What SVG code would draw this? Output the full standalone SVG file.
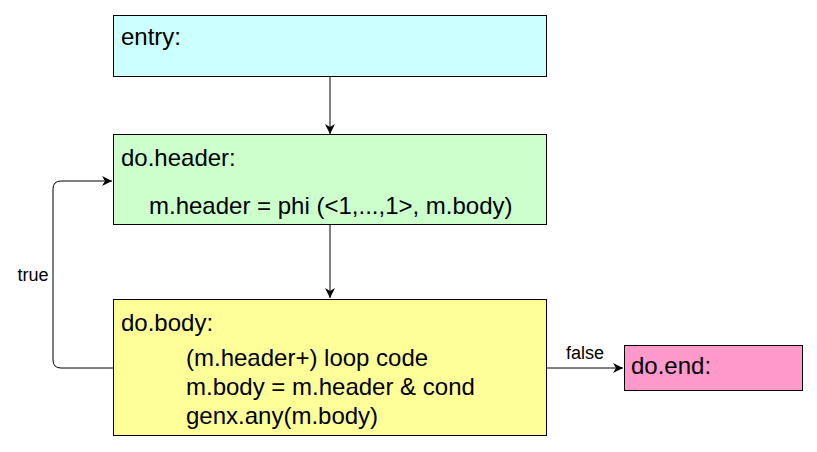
<svg xmlns="http://www.w3.org/2000/svg" width="817" height="452" viewBox="0 0 817 452">
  <style>
    .box { stroke: #000; stroke-width: 1; }
    .t { font-family: "Liberation Sans", Arial, sans-serif; font-size: 24px; fill: #000; }
    .lbl { font-family: "Liberation Sans", Arial, sans-serif; font-size: 18px; fill: #000; }
    .edge { fill: none; stroke: #000; stroke-width: 1; }
  </style>
  <defs>
    <marker id="arrow" viewBox="0 0 10 10" refX="10" refY="5" markerWidth="10" markerHeight="10" markerUnits="userSpaceOnUse" orient="auto">
      <path d="M0,0 L10,5 L0,10 L3,5 Z" fill="#000"/>
    </marker>
  </defs>
  <rect width="817" height="452" fill="#fff"/>

  <g id="connectors">
    <path class="edge" d="M330,77 L330,134" marker-end="url(#arrow)"/>
    <path class="edge" d="M330,225 L330,298" marker-end="url(#arrow)"/>
    <path class="edge" d="M113,368 L61,368 Q53,368 53,360 L53,189 Q53,181 61,181 L112,181" marker-end="url(#arrow)"/>
    <path class="edge" d="M547,368 L623,368" marker-end="url(#arrow)"/>
    <text class="lbl" x="33" y="281" text-anchor="middle">true</text>
    <text class="lbl" x="585" y="359" text-anchor="middle">false</text>
  </g>

  <g id="entry">
    <rect class="box" x="113.5" y="15.5" width="433" height="61" fill="#ccffff"/>
    <text class="t" x="121" y="45">entry:</text>
  </g>

  <g id="do.header">
    <rect class="box" x="113.5" y="134.5" width="433" height="90" fill="#ccffcc"/>
    <text class="t" x="121" y="166">do.header:</text>
    <text class="t" x="149" y="214">m.header = phi (&lt;1,...,1&gt;, m.body)</text>
  </g>

  <g id="do.body">
    <rect class="box" x="113.5" y="299.5" width="433" height="136" fill="#ffff99"/>
    <text class="t" x="121" y="331">do.body:</text>
    <text class="t" x="186" y="366">(m.header+) loop code</text>
    <text class="t" x="186" y="395">m.body = m.header &amp; cond</text>
    <text class="t" x="186" y="424">genx.any(m.body)</text>
  </g>

  <g id="do.end">
    <rect class="box" x="624.5" y="345.5" width="178" height="45" fill="#ff99cc"/>
    <text class="t" x="631" y="374">do.end:</text>
  </g>
</svg>
